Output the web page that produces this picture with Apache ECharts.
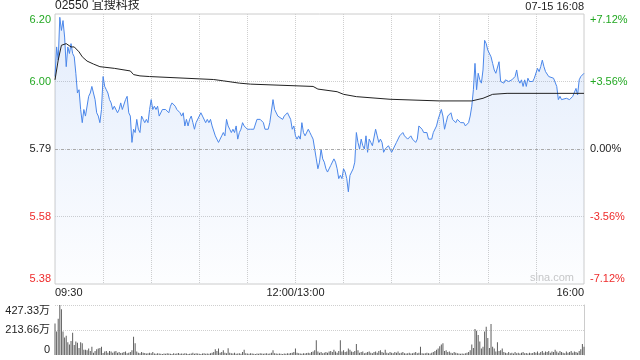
<!DOCTYPE html>
<html><head><meta charset="utf-8">
<script src="https://cdn.jsdelivr.net/npm/echarts@6/dist/echarts.min.js"></script>
<style>html,body{margin:0;padding:0;background:#fff}#c{width:640px;height:360px}</style>
</head><body><div id="c"></div>
<script>
const chartTitle = '02550 宜搜科技';
const stamp = '07-15 16:08';
const priceMin = 5.38, priceMax = 6.20, prevClose = 5.79;
const priceTicks = ['5.38', '5.58', '5.79', '6.00', '6.20'];
const pctTicks = ['-7.12%', '-3.56%', '0.00%', '+3.56%', '+7.12%'];
const timeTickMinutes = [0, 150, 330];
const timeTicks = ['09:30', '12:00/13:00', '16:00'];
const volMax = 427.33;
const volTicks = ['0', '213.66万', '427.33万'];

const priceMinutes = [0,1,2,3,4,5,6,7,8,9,10,11,12,13,14,15,16,17,18,19,20,21,22,23,24,25,26,27,28,29,30,31,32,33,34,35,36,37,38,39,40,41,42,43,44,45,46,47,48,49,50,51,52,53,54,55,56,57,58,59,60,61,62,63,64,65,66,67,69,71,72,73,75,76,78,79,80,81,82,83,84,85,86,87,88,90,91,92,94,95,96,97,98,100,101,102,103,104,105,106,107,108,109,110,111,112,113,114,115,116,117,118,120,122,124,126,128,130,131,133,134,136,137,139,140,142,143,145,147,148,149,150,151,152,153,154,155,156,158,159,160,161,162,163,164,165,166,167,168,169,170,172,174,175,176,177,178,179,180,181,182,183,184,185,186,187,188,189,190,191,192,193,194,195,196,197,198,200,201,202,203,204,205,206,208,209,210,211,213,215,217,218,220,222,223,225,226,227,229,230,231,232,233,235,236,238,239,241,242,243,244,245,247,248,250,251,253,255,256,258,259,260,261,262,263,264,265,266,267,268,269,270,271,272,273,274,275,276,277,278,279,280,281,283,285,286,287,288,289,290,291,292,293,294,295,296,297,298,299,300,301,302,303,304,305,306,307,308,309,311,312,313,314,315,316,317,319,320,321,322,323,324,325,326,327,328,329,330];
const prices = [6.01,6.10,6.06,6.19,6.15,6.18,6.13,6.04,6.10,6.08,6.11,6.08,6.07,6.02,5.96,5.97,5.91,5.87,5.91,5.89,5.89,5.95,5.96,5.98,5.96,5.94,5.90,5.89,5.87,5.91,6.01,5.98,5.97,5.96,5.94,5.93,5.91,5.92,5.92,5.90,5.91,5.93,5.91,5.91,5.94,5.95,5.90,5.89,5.81,5.85,5.84,5.88,5.85,5.84,5.89,5.88,5.87,5.88,5.87,5.91,5.94,5.91,5.92,5.91,5.92,5.89,5.89,5.91,5.91,5.90,5.92,5.93,5.92,5.91,5.90,5.89,5.90,5.86,5.88,5.86,5.88,5.89,5.87,5.85,5.87,5.89,5.90,5.89,5.87,5.88,5.87,5.88,5.86,5.83,5.82,5.81,5.82,5.83,5.84,5.83,5.88,5.86,5.85,5.84,5.85,5.84,5.86,5.82,5.84,5.85,5.87,5.86,5.85,5.85,5.85,5.88,5.88,5.87,5.85,5.85,5.87,5.94,5.91,5.89,5.89,5.88,5.89,5.90,5.88,5.85,5.86,5.83,5.82,5.83,5.82,5.87,5.84,5.83,5.85,5.84,5.83,5.82,5.79,5.76,5.73,5.75,5.79,5.76,5.75,5.73,5.72,5.74,5.76,5.75,5.73,5.70,5.71,5.70,5.73,5.72,5.70,5.66,5.71,5.72,5.73,5.75,5.84,5.81,5.79,5.82,5.80,5.79,5.83,5.78,5.82,5.81,5.80,5.85,5.83,5.81,5.82,5.81,5.78,5.79,5.80,5.79,5.78,5.79,5.81,5.83,5.84,5.83,5.82,5.83,5.82,5.81,5.82,5.86,5.85,5.84,5.84,5.84,5.82,5.82,5.84,5.86,5.88,5.91,5.89,5.85,5.87,5.89,5.90,5.88,5.87,5.88,5.87,5.87,5.86,5.87,5.89,5.92,5.97,6.05,5.97,6.02,6.00,5.99,6.03,6.12,6.11,6.09,6.085,6.07,6.05,6.03,6.02,6.02,6.055,5.995,6.00,5.99,6.00,5.995,6.00,5.995,6.01,6.03,6.00,5.99,6.00,5.98,6.00,5.98,6.005,5.995,6.00,5.995,6.005,6.01,6.035,6.025,6.04,6.06,6.04,6.025,6.02,6.01,6.01,6.005,6.00,5.98,5.94,5.95,5.94,5.944,5.944,5.94,5.94,5.944,5.95,5.954,5.974,5.954,6.00,6.01,6.015,6.02];

const avgMinutes = [0,2,4,7,10,12,15,17,20,24,28,37,47,49,53,59,90,99,105,115,122,161,164,176,180,188,209,240,260,267,273,282,330];
const avgPrices = [6.00,6.06,6.105,6.11,6.10,6.10,6.085,6.07,6.057,6.048,6.04,6.035,6.027,6.016,6.012,6.01,6.003,6.001,5.997,5.99,5.987,5.98,5.972,5.964,5.956,5.949,5.941,5.936,5.936,5.944,5.956,5.959,5.959];

const volumes = [
270,200,310,427.33,390,200,150,165,110,90,
120,190,85,115,105,60,110,100,45,45,
40,55,35,70,20,35,50,55,60,70,
18,30,35,20,35,30,20,30,35,20,
25,18,20,25,30,15,20,25,40,155,
100,30,20,15,25,20,18,12,15,20,
15,25,12,10,15,12,10,8,12,10,
15,12,10,8,15,10,12,18,10,12,
10,15,12,8,10,12,20,10,15,12,
10,8,12,15,10,12,10,15,20,25,
50,35,55,20,25,40,20,15,57,20,
15,12,20,10,12,15,10,25,45,15,
12,10,15,12,10,8,12,10,15,12,
10,12,15,10,12,20,40,15,12,10,
12,10,8,12,10,15,12,18,20,25,
55,20,15,12,10,15,12,18,20,15,
25,30,40,125,30,20,25,15,20,25,
20,30,35,25,45,30,20,35,125,30,
40,25,30,55,45,30,25,35,95,40,
20,25,30,15,20,25,30,20,15,25,
30,20,35,40,25,20,45,20,15,25,
20,15,25,20,30,15,20,25,15,12,
15,20,12,15,20,25,15,20,70,15,
12,15,20,15,12,20,25,35,45,55,
75,90,100,35,40,25,30,20,15,25,
20,15,12,10,12,10,15,20,25,40,
90,60,222,208,170,115,55,70,200,242,
145,60,265,70,55,30,110,35,40,55,
25,20,15,25,15,20,12,25,15,20,
12,20,25,15,18,12,20,15,18,25,
20,30,15,25,35,20,30,25,35,20,
30,25,45,30,20,35,25,20,15,30,
20,25,35,20,30,25,20,35,50,95,
70];

const FONT = "'Liberation Sans', Arial, 'Noto Sans CJK SC', sans-serif";
const RED = '#ee2b2b', GREEN = '#22a822', DARK = '#222';
const tickColors = [RED, RED, DARK, GREEN, GREEN];

const chart = echarts.init(document.getElementById('c'), null, {renderer: 'canvas'});
const labelAxis = (pos, labels, margin) => ({
  gridIndex: 0, type: 'value', position: pos, min: 0, max: 4, interval: 1,
  axisLine: {show: false}, axisTick: {show: false},
  splitLine: {show: pos === 'left', showMinLine: false, showMaxLine: false,
    lineStyle: {color: '#cfcfcf', type: 'dotted', width: 1}},
  axisLabel: {margin: margin, fontSize: 11, fontFamily: FONT,
    formatter: (v, i) => labels[i],
    color: (v, i) => tickColors[i],
    verticalAlignMinLabel: 'bottom', verticalAlignMaxLabel: 'top'}
});

chart.setOption({
  animation: false,
  backgroundColor: '#fff',
  title: [
    {text: chartTitle, left: 55, top: 0, padding: 0,
     textStyle: {fontSize: 12, fontWeight: 'normal', color: DARK, fontFamily: FONT}},
    {text: stamp, right: 56, top: 1, padding: 0,
     textStyle: {fontSize: 11, fontWeight: 'normal', color: DARK, fontFamily: FONT}}
  ],
  graphic: [{type: 'text', right: 66, top: 272, silent: true,
    style: {text: 'sina.com', fill: '#c8c8c8', fontSize: 11, fontFamily: FONT}}],
  grid: [
    {left: 55, right: 56, top: 14, height: 270, show: true, borderColor: '#cccccc', borderWidth: 1},
    {left: 55, right: 56, top: 305, height: 50}
  ],
  xAxis: [
    {gridIndex: 0, type: 'value', min: 0, max: 330, interval: 30,
     axisLine: {show: false}, axisTick: {show: false},
     splitLine: {show: true, showMinLine: false, showMaxLine: false,
       lineStyle: {color: '#cfcfcf', type: 'dotted', width: 1}},
     axisLabel: {margin: 3, fontSize: 11, color: DARK, fontFamily: FONT,
       alignMinLabel: 'left', alignMaxLabel: 'right',
       formatter: v => { const i = timeTickMinutes.indexOf(v); return i >= 0 ? timeTicks[i] : ''; }}},
    {gridIndex: 1, type: 'value', min: 0, max: 330, show: false}
  ],
  yAxis: [
    {gridIndex: 0, type: 'value', min: priceMin, max: priceMax, show: false},
    labelAxis('left', priceTicks, 4),
    labelAxis('right', pctTicks, 6),
    {gridIndex: 1, type: 'value', position: 'left', min: 0, max: volMax, interval: volMax / 2,
     axisLine: {show: false}, axisTick: {show: false},
     splitLine: {show: true, showMinLine: false, showMaxLine: true,
       lineStyle: {color: '#cfcfcf', type: 'dotted', width: 1}},
     axisLabel: {margin: 5, fontSize: 11, color: DARK, fontFamily: FONT,
       formatter: (v, i) => volTicks[i],
       verticalAlignMinLabel: 'bottom', verticalAlignMaxLabel: 'top'}},
    {gridIndex: 1, type: 'value', position: 'right', min: 0, max: volMax,
     axisLine: {show: true, lineStyle: {color: '#cccccc'}}, axisTick: {show: false},
     axisLabel: {show: false}, splitLine: {show: false}}
  ],
  series: [
    {type: 'line', xAxisIndex: 0, yAxisIndex: 0, showSymbol: false, z: 3,
     data: priceMinutes.map((m, i) => [m, prices[i]]),
     lineStyle: {color: '#4b87ea', width: 1},
     areaStyle: {origin: 'start', color: new echarts.graphic.LinearGradient(0, 0, 0, 1, [
       {offset: 0, color: 'rgba(75,135,234,0.22)'},
       {offset: 1, color: 'rgba(75,135,234,0.02)'}])},
     markLine: {silent: true, symbol: 'none', label: {show: false},
       lineStyle: {color: '#aaaaaa', type: [3, 3], width: 1},
       data: [{yAxis: prevClose}]}},
    {type: 'line', xAxisIndex: 0, yAxisIndex: 0, showSymbol: false, z: 4,
     data: avgMinutes.map((m, i) => [m, avgPrices[i]]),
     lineStyle: {color: '#222', width: 1}},
    {type: 'bar', xAxisIndex: 1, yAxisIndex: 3, barWidth: 1,
     data: volumes.map((v, i) => [i, v]),
     itemStyle: {color: '#5e5e5e'}}
  ]
});
</script></body></html>
